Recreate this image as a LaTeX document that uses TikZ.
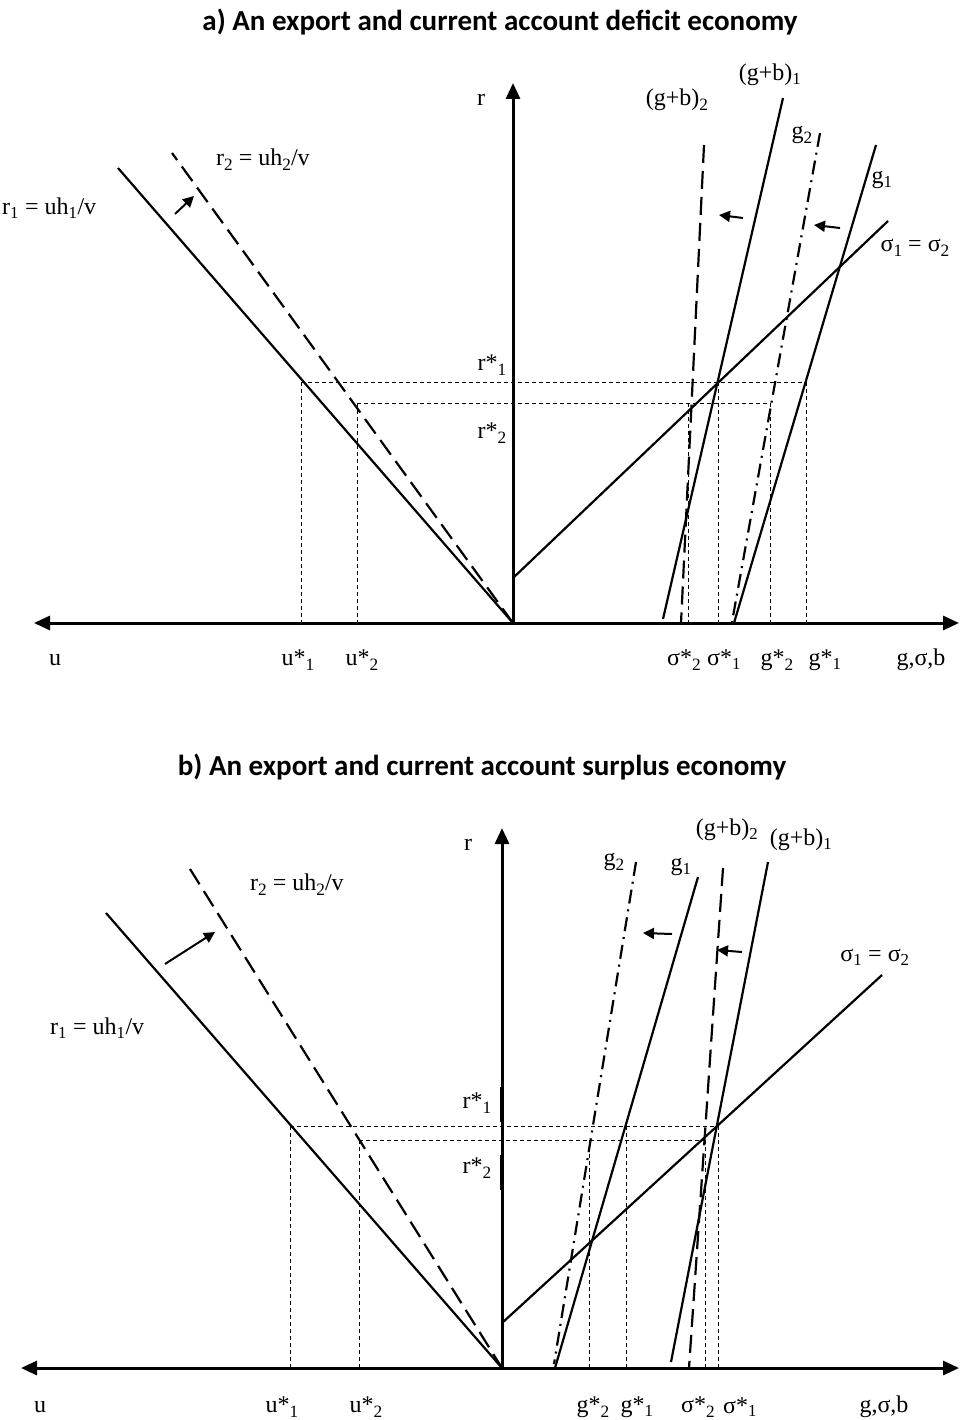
\documentclass[tikz,border=0pt]{standalone}
\usepackage{fontspec}
\setmainfont{Liberation Serif}
\newfontfamily\titlefont{Carlito}
\usetikzlibrary{arrows.meta}
\newcommand{\sbs}[1]{\textsubscript{#1}}
\newcommand{\sbl}[1]{\raisebox{-0.45ex}{\scalebox{0.72}{#1}}}
\begin{document}
\begin{tikzpicture}[x=1pt,y=-1pt,
  axisline/.style={line width=3pt,{Triangle[length=16pt,width=14pt]}-{Triangle[length=16pt,width=14pt]}},
  raxis/.style={line width=3pt,-{Triangle[length=16pt,width=14pt]}},
  curve/.style={line width=2.2pt},
  dashcurve/.style={line width=2.2pt,dash pattern=on 18pt off 8pt},
  dashdotcurve/.style={line width=2.2pt,dash pattern=on 14pt off 6pt on 2pt off 6pt},
  guide/.style={line width=1pt,dash pattern=on 4pt off 3pt},
  shiftarrow/.style={line width=2pt,-{Triangle[length=11pt,width=11pt]}},
  lbl/.style={font=\fontsize{24}{27}\selectfont,inner sep=0pt},
  ttl/.style={font=\titlefont\bfseries\fontsize{29}{32}\selectfont,inner sep=0pt}]
\useasboundingbox (0,0) rectangle (961,1420);

%%%%%%%%%%%%%%%% panel a %%%%%%%%%%%%%%%%
\node[ttl] (ta) at (500,22) {a) An export and current account deficit economy};
\coordinate (aL) at (34,623);
\coordinate (aR) at (959,623);
\coordinate (aO) at (513,623);
\coordinate (aT) at (513,83);
\draw[axisline] (aL) -- (aR);
\draw[raxis] (aO) -- (aT);
\node[lbl] (ar) at (481,100) {r};

% wage-profit lines
\coordinate (ar1) at (118,168);
\coordinate (ar2) at (172,153);
\draw[curve] (aO) -- (ar1);
\draw[dashcurve] (aO) -- (ar2);
\coordinate (aa1s) at (175,214); \coordinate (aa1e) at (194,196);
\draw[shiftarrow] (aa1s) -- (aa1e);
\node[lbl,anchor=west] (ar1l) at (2,208) {r\sbs{1} = uh\sbs{1}/v};
\node[lbl,anchor=west] (ar2l) at (216,160) {r\sbl{2} = uh\sbl{2}/v};

% sigma line
\coordinate (asB) at (513,578); \coordinate (asT) at (888,221);
\draw[curve] (asB) -- (asT);
\node[lbl] (asl) at (915,248) {σ\sbl{1} = σ\sbl{2}};

% g lines
\coordinate (ag1B) at (734,623); \coordinate (ag1T) at (876,145);
\draw[curve] (ag1B) -- (ag1T);
\coordinate (ag2B) at (732,622); \coordinate (ag2T) at (820,133);
\draw[dashdotcurve] (ag2T) -- (ag2B);
\coordinate (agb1B) at (663,619); \coordinate (agb1T) at (783,98);
\draw[curve] (agb1B) -- (agb1T);
\coordinate (agb2B) at (681,623); \coordinate (agb2T) at (704,145);
\draw[dashcurve] (agb2T) -- (agb2B);
\node[lbl] (ag1l) at (882,180) {g\sbs{1}};
\node[lbl] (ag2l) at (802,135) {g\sbl{2}};
\node[lbl] (agb1l) at (770,75) {(g+b)\sbs{1}};
\node[lbl] (agb2l) at (677,100) {(g+b)\sbl{2}};
\coordinate (aa2s) at (743,218); \coordinate (aa2e) at (719,215);
\draw[shiftarrow] (aa2s) -- (aa2e);
\coordinate (aa3s) at (840,228); \coordinate (aa3e) at (814,225);
\draw[shiftarrow] (aa3s) -- (aa3e);

% guides
\coordinate (ah1L) at (301,382); \coordinate (ah1R) at (806,382);
\coordinate (ah2L) at (357,403); \coordinate (ah2R) at (770,403);
\draw[guide] (ah1L) -- (ah1R);
\draw[guide] (ah2L) -- (ah2R);
\foreach \x/\y in {301/382,357/403,688/403,718/382,770/403,806/382}
  \draw[guide] (\x,\y) -- (\x,623);
\node[lbl] (ars1) at (492,365) {r*\sbl{1}};
\node[lbl] (ars2) at (492,433) {r*\sbl{2}};

% axis labels
\node[lbl] (au) at (55,660) {u};
\node[lbl] (aus1) at (298,660) {u*\sbl{1}};
\node[lbl] (aus2) at (362,660) {u*\sbl{2}};
\node[lbl] (ass2) at (684,660) {σ*\sbl{2}};
\node[lbl] (ass1) at (724,660) {σ*\sbs{1}};
\node[lbl] (ags2) at (777,660) {g*\sbl{2}};
\node[lbl] (ags1) at (825,660) {g*\sbs{1}};
\node[lbl] (agsb) at (921,660) {g,σ,b};

%%%%%%%%%%%%%%%% panel b %%%%%%%%%%%%%%%%
\node[ttl] (tb) at (482,767) {b) An export and current account surplus economy};
\coordinate (bL) at (21,1368);
\coordinate (bR) at (959,1368);
\coordinate (bO) at (502,1368);
\coordinate (bT) at (502,828);
\draw[axisline] (bL) -- (bR);
\draw[raxis] (bO) -- (bT);
\coordinate (bk1a) at (502,1087); \coordinate (bk1b) at (502,1122);
\coordinate (bk2a) at (502,1155); \coordinate (bk2b) at (502,1190);
\draw[line width=4.5pt] (bk1a) -- (bk1b);
\draw[line width=4.5pt] (bk2a) -- (bk2b);
\node[lbl] (br) at (468,845) {r};

\coordinate (br1) at (106,913);
\coordinate (br2) at (190,869);
\draw[curve] (bO) -- (br1);
\draw[dashcurve] (br2) -- (bO);
\coordinate (ba1s) at (165,964); \coordinate (ba1e) at (215,932);
\draw[shiftarrow] (ba1s) -- (ba1e);
\node[lbl,anchor=west] (br1l) at (50,1028) {r\sbs{1} = uh\sbs{1}/v};
\node[lbl,anchor=west] (br2l) at (250,885) {r\sbl{2} = uh\sbl{2}/v};

\coordinate (bsB) at (502,1323); \coordinate (bsT) at (882,975);
\draw[curve] (bsB) -- (bsT);
\node[lbl] (bsl) at (875,957) {σ\sbs{1} = σ\sbs{2}};

\coordinate (bg1B) at (555,1368); \coordinate (bg1T) at (698,877);
\draw[curve] (bg1B) -- (bg1T);
\coordinate (bg2B) at (554,1364); \coordinate (bg2T) at (636,862);
\draw[dashdotcurve] (bg2T) -- (bg2B);
\coordinate (bgb1B) at (671,1362); \coordinate (bgb1T) at (768,862);
\draw[curve] (bgb1B) -- (bgb1T);
\coordinate (bgb2B) at (689,1368); \coordinate (bgb2T) at (723,868);
\draw[dashcurve] (bgb2T) -- (bgb2B);
\node[lbl] (bg1l) at (681,867) {g\sbs{1}};
\node[lbl] (bg2l) at (614,862) {g\sbl{2}};
\node[lbl] (bgb1l) at (801,840) {(g+b)\sbs{1}};
\node[lbl] (bgb2l) at (727,830) {(g+b)\sbs{2}};
\coordinate (ba2s) at (672,934); \coordinate (ba2e) at (643,933);
\draw[shiftarrow] (ba2s) -- (ba2e);
\coordinate (ba3s) at (742,952); \coordinate (ba3e) at (717,950);
\draw[shiftarrow] (ba3s) -- (ba3e);

\coordinate (bh1L) at (290,1126); \coordinate (bh1R) at (718,1126);
\coordinate (bh2L) at (359,1140); \coordinate (bh2R) at (705,1140);
\draw[guide] (bh1L) -- (bh1R);
\draw[guide] (bh2L) -- (bh2R);
\foreach \x/\y in {290/1126,359/1140,589/1140,626/1126,705/1140,718/1126}
  \draw[guide] (\x,\y) -- (\x,1368);
\node[lbl] (brs1) at (477,1103) {r*\sbl{1}};
\node[lbl] (brs2) at (477,1168) {r*\sbl{2}};

\node[lbl] (bu) at (40,1407) {u};
\node[lbl] (bus1) at (282,1407) {u*\sbl{1}};
\node[lbl] (bus2) at (366,1407) {u*\sbl{2}};
\node[lbl] (bgs2) at (593,1407) {g*\sbl{2}};
\node[lbl] (bgs1) at (637,1407) {g*\sbs{1}};
\node[lbl] (bss2) at (698,1407) {σ*\sbl{2}};
\node[lbl] (bss1) at (740,1407) {σ*\sbs{1}};
\node[lbl] (bgsb) at (884,1407) {g,σ,b};
\end{tikzpicture}
\end{document}
